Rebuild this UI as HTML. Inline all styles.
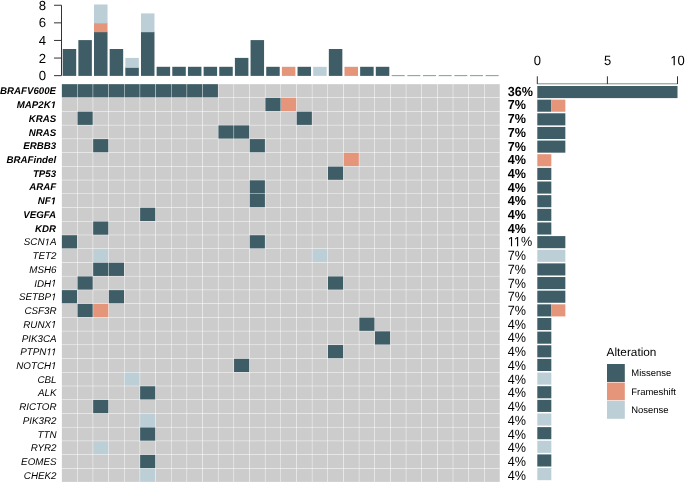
<!DOCTYPE html>
<html><head><meta charset="utf-8"><style>
html,body{margin:0;padding:0;background:#fff;}
body{width:685px;height:483px;overflow:hidden;}
svg{display:block;will-change:transform;text-rendering:geometricPrecision;font-family:"Liberation Sans",sans-serif;}
text{font-family:"Liberation Sans",sans-serif;fill:#000;}
.g{fill:#cccccc;} .d{fill:#3f5d66;} .o{fill:#e4957a;} .l{fill:#bccfd6;}
.lb{font-size:9.7px;font-style:italic;font-weight:bold;text-anchor:end;}
.lr{font-size:9.8px;font-style:italic;text-anchor:end;}
.pb{font-size:12.6px;font-weight:bold;}
.pr{font-size:12.6px;}
</style></head><body>
<svg width="685" height="483" viewBox="0 0 685 483">
<g>
<rect class="d" x="61.85" y="84.16" width="15.21" height="13.28"/>
<rect class="d" x="77.5" y="84.16" width="15.21" height="13.28"/>
<rect class="d" x="93.16" y="84.16" width="15.21" height="13.28"/>
<rect class="d" x="108.81" y="84.16" width="15.21" height="13.28"/>
<rect class="d" x="124.47" y="84.16" width="15.21" height="13.28"/>
<rect class="d" x="140.12" y="84.16" width="15.21" height="13.28"/>
<rect class="d" x="155.78" y="84.16" width="15.21" height="13.28"/>
<rect class="d" x="171.43" y="84.16" width="15.21" height="13.28"/>
<rect class="d" x="187.09" y="84.16" width="15.21" height="13.28"/>
<rect class="d" x="202.74" y="84.16" width="15.21" height="13.28"/>
<rect class="g" x="218.4" y="84.16" width="15.21" height="13.28"/>
<rect class="g" x="234.05" y="84.16" width="15.21" height="13.28"/>
<rect class="g" x="249.71" y="84.16" width="15.21" height="13.28"/>
<rect class="g" x="265.37" y="84.16" width="15.21" height="13.28"/>
<rect class="g" x="281.02" y="84.16" width="15.21" height="13.28"/>
<rect class="g" x="296.68" y="84.16" width="15.21" height="13.28"/>
<rect class="g" x="312.33" y="84.16" width="15.21" height="13.28"/>
<rect class="g" x="327.99" y="84.16" width="15.21" height="13.28"/>
<rect class="g" x="343.64" y="84.16" width="15.21" height="13.28"/>
<rect class="g" x="359.3" y="84.16" width="15.21" height="13.28"/>
<rect class="g" x="374.95" y="84.16" width="15.21" height="13.28"/>
<rect class="g" x="390.61" y="84.16" width="15.21" height="13.28"/>
<rect class="g" x="406.26" y="84.16" width="15.21" height="13.28"/>
<rect class="g" x="421.92" y="84.16" width="15.21" height="13.28"/>
<rect class="g" x="437.57" y="84.16" width="15.21" height="13.28"/>
<rect class="g" x="453.23" y="84.16" width="15.21" height="13.28"/>
<rect class="g" x="468.88" y="84.16" width="15.21" height="13.28"/>
<rect class="g" x="484.54" y="84.16" width="15.21" height="13.28"/>
<rect class="g" x="61.85" y="97.89" width="15.21" height="13.28"/>
<rect class="g" x="77.5" y="97.89" width="15.21" height="13.28"/>
<rect class="g" x="93.16" y="97.89" width="15.21" height="13.28"/>
<rect class="g" x="108.81" y="97.89" width="15.21" height="13.28"/>
<rect class="g" x="124.47" y="97.89" width="15.21" height="13.28"/>
<rect class="g" x="140.12" y="97.89" width="15.21" height="13.28"/>
<rect class="g" x="155.78" y="97.89" width="15.21" height="13.28"/>
<rect class="g" x="171.43" y="97.89" width="15.21" height="13.28"/>
<rect class="g" x="187.09" y="97.89" width="15.21" height="13.28"/>
<rect class="g" x="202.74" y="97.89" width="15.21" height="13.28"/>
<rect class="g" x="218.4" y="97.89" width="15.21" height="13.28"/>
<rect class="g" x="234.05" y="97.89" width="15.21" height="13.28"/>
<rect class="g" x="249.71" y="97.89" width="15.21" height="13.28"/>
<rect class="d" x="265.37" y="97.89" width="15.21" height="13.28"/>
<rect class="o" x="281.02" y="97.89" width="15.21" height="13.28"/>
<rect class="g" x="296.68" y="97.89" width="15.21" height="13.28"/>
<rect class="g" x="312.33" y="97.89" width="15.21" height="13.28"/>
<rect class="g" x="327.99" y="97.89" width="15.21" height="13.28"/>
<rect class="g" x="343.64" y="97.89" width="15.21" height="13.28"/>
<rect class="g" x="359.3" y="97.89" width="15.21" height="13.28"/>
<rect class="g" x="374.95" y="97.89" width="15.21" height="13.28"/>
<rect class="g" x="390.61" y="97.89" width="15.21" height="13.28"/>
<rect class="g" x="406.26" y="97.89" width="15.21" height="13.28"/>
<rect class="g" x="421.92" y="97.89" width="15.21" height="13.28"/>
<rect class="g" x="437.57" y="97.89" width="15.21" height="13.28"/>
<rect class="g" x="453.23" y="97.89" width="15.21" height="13.28"/>
<rect class="g" x="468.88" y="97.89" width="15.21" height="13.28"/>
<rect class="g" x="484.54" y="97.89" width="15.21" height="13.28"/>
<rect class="g" x="61.85" y="111.62" width="15.21" height="13.28"/>
<rect class="d" x="77.5" y="111.62" width="15.21" height="13.28"/>
<rect class="g" x="93.16" y="111.62" width="15.21" height="13.28"/>
<rect class="g" x="108.81" y="111.62" width="15.21" height="13.28"/>
<rect class="g" x="124.47" y="111.62" width="15.21" height="13.28"/>
<rect class="g" x="140.12" y="111.62" width="15.21" height="13.28"/>
<rect class="g" x="155.78" y="111.62" width="15.21" height="13.28"/>
<rect class="g" x="171.43" y="111.62" width="15.21" height="13.28"/>
<rect class="g" x="187.09" y="111.62" width="15.21" height="13.28"/>
<rect class="g" x="202.74" y="111.62" width="15.21" height="13.28"/>
<rect class="g" x="218.4" y="111.62" width="15.21" height="13.28"/>
<rect class="g" x="234.05" y="111.62" width="15.21" height="13.28"/>
<rect class="g" x="249.71" y="111.62" width="15.21" height="13.28"/>
<rect class="g" x="265.37" y="111.62" width="15.21" height="13.28"/>
<rect class="g" x="281.02" y="111.62" width="15.21" height="13.28"/>
<rect class="d" x="296.68" y="111.62" width="15.21" height="13.28"/>
<rect class="g" x="312.33" y="111.62" width="15.21" height="13.28"/>
<rect class="g" x="327.99" y="111.62" width="15.21" height="13.28"/>
<rect class="g" x="343.64" y="111.62" width="15.21" height="13.28"/>
<rect class="g" x="359.3" y="111.62" width="15.21" height="13.28"/>
<rect class="g" x="374.95" y="111.62" width="15.21" height="13.28"/>
<rect class="g" x="390.61" y="111.62" width="15.21" height="13.28"/>
<rect class="g" x="406.26" y="111.62" width="15.21" height="13.28"/>
<rect class="g" x="421.92" y="111.62" width="15.21" height="13.28"/>
<rect class="g" x="437.57" y="111.62" width="15.21" height="13.28"/>
<rect class="g" x="453.23" y="111.62" width="15.21" height="13.28"/>
<rect class="g" x="468.88" y="111.62" width="15.21" height="13.28"/>
<rect class="g" x="484.54" y="111.62" width="15.21" height="13.28"/>
<rect class="g" x="61.85" y="125.35" width="15.21" height="13.28"/>
<rect class="g" x="77.5" y="125.35" width="15.21" height="13.28"/>
<rect class="g" x="93.16" y="125.35" width="15.21" height="13.28"/>
<rect class="g" x="108.81" y="125.35" width="15.21" height="13.28"/>
<rect class="g" x="124.47" y="125.35" width="15.21" height="13.28"/>
<rect class="g" x="140.12" y="125.35" width="15.21" height="13.28"/>
<rect class="g" x="155.78" y="125.35" width="15.21" height="13.28"/>
<rect class="g" x="171.43" y="125.35" width="15.21" height="13.28"/>
<rect class="g" x="187.09" y="125.35" width="15.21" height="13.28"/>
<rect class="g" x="202.74" y="125.35" width="15.21" height="13.28"/>
<rect class="d" x="218.4" y="125.35" width="15.21" height="13.28"/>
<rect class="d" x="234.05" y="125.35" width="15.21" height="13.28"/>
<rect class="g" x="249.71" y="125.35" width="15.21" height="13.28"/>
<rect class="g" x="265.37" y="125.35" width="15.21" height="13.28"/>
<rect class="g" x="281.02" y="125.35" width="15.21" height="13.28"/>
<rect class="g" x="296.68" y="125.35" width="15.21" height="13.28"/>
<rect class="g" x="312.33" y="125.35" width="15.21" height="13.28"/>
<rect class="g" x="327.99" y="125.35" width="15.21" height="13.28"/>
<rect class="g" x="343.64" y="125.35" width="15.21" height="13.28"/>
<rect class="g" x="359.3" y="125.35" width="15.21" height="13.28"/>
<rect class="g" x="374.95" y="125.35" width="15.21" height="13.28"/>
<rect class="g" x="390.61" y="125.35" width="15.21" height="13.28"/>
<rect class="g" x="406.26" y="125.35" width="15.21" height="13.28"/>
<rect class="g" x="421.92" y="125.35" width="15.21" height="13.28"/>
<rect class="g" x="437.57" y="125.35" width="15.21" height="13.28"/>
<rect class="g" x="453.23" y="125.35" width="15.21" height="13.28"/>
<rect class="g" x="468.88" y="125.35" width="15.21" height="13.28"/>
<rect class="g" x="484.54" y="125.35" width="15.21" height="13.28"/>
<rect class="g" x="61.85" y="139.09" width="15.21" height="13.28"/>
<rect class="g" x="77.5" y="139.09" width="15.21" height="13.28"/>
<rect class="d" x="93.16" y="139.09" width="15.21" height="13.28"/>
<rect class="g" x="108.81" y="139.09" width="15.21" height="13.28"/>
<rect class="g" x="124.47" y="139.09" width="15.21" height="13.28"/>
<rect class="g" x="140.12" y="139.09" width="15.21" height="13.28"/>
<rect class="g" x="155.78" y="139.09" width="15.21" height="13.28"/>
<rect class="g" x="171.43" y="139.09" width="15.21" height="13.28"/>
<rect class="g" x="187.09" y="139.09" width="15.21" height="13.28"/>
<rect class="g" x="202.74" y="139.09" width="15.21" height="13.28"/>
<rect class="g" x="218.4" y="139.09" width="15.21" height="13.28"/>
<rect class="g" x="234.05" y="139.09" width="15.21" height="13.28"/>
<rect class="d" x="249.71" y="139.09" width="15.21" height="13.28"/>
<rect class="g" x="265.37" y="139.09" width="15.21" height="13.28"/>
<rect class="g" x="281.02" y="139.09" width="15.21" height="13.28"/>
<rect class="g" x="296.68" y="139.09" width="15.21" height="13.28"/>
<rect class="g" x="312.33" y="139.09" width="15.21" height="13.28"/>
<rect class="g" x="327.99" y="139.09" width="15.21" height="13.28"/>
<rect class="g" x="343.64" y="139.09" width="15.21" height="13.28"/>
<rect class="g" x="359.3" y="139.09" width="15.21" height="13.28"/>
<rect class="g" x="374.95" y="139.09" width="15.21" height="13.28"/>
<rect class="g" x="390.61" y="139.09" width="15.21" height="13.28"/>
<rect class="g" x="406.26" y="139.09" width="15.21" height="13.28"/>
<rect class="g" x="421.92" y="139.09" width="15.21" height="13.28"/>
<rect class="g" x="437.57" y="139.09" width="15.21" height="13.28"/>
<rect class="g" x="453.23" y="139.09" width="15.21" height="13.28"/>
<rect class="g" x="468.88" y="139.09" width="15.21" height="13.28"/>
<rect class="g" x="484.54" y="139.09" width="15.21" height="13.28"/>
<rect class="g" x="61.85" y="152.81" width="15.21" height="13.28"/>
<rect class="g" x="77.5" y="152.81" width="15.21" height="13.28"/>
<rect class="g" x="93.16" y="152.81" width="15.21" height="13.28"/>
<rect class="g" x="108.81" y="152.81" width="15.21" height="13.28"/>
<rect class="g" x="124.47" y="152.81" width="15.21" height="13.28"/>
<rect class="g" x="140.12" y="152.81" width="15.21" height="13.28"/>
<rect class="g" x="155.78" y="152.81" width="15.21" height="13.28"/>
<rect class="g" x="171.43" y="152.81" width="15.21" height="13.28"/>
<rect class="g" x="187.09" y="152.81" width="15.21" height="13.28"/>
<rect class="g" x="202.74" y="152.81" width="15.21" height="13.28"/>
<rect class="g" x="218.4" y="152.81" width="15.21" height="13.28"/>
<rect class="g" x="234.05" y="152.81" width="15.21" height="13.28"/>
<rect class="g" x="249.71" y="152.81" width="15.21" height="13.28"/>
<rect class="g" x="265.37" y="152.81" width="15.21" height="13.28"/>
<rect class="g" x="281.02" y="152.81" width="15.21" height="13.28"/>
<rect class="g" x="296.68" y="152.81" width="15.21" height="13.28"/>
<rect class="g" x="312.33" y="152.81" width="15.21" height="13.28"/>
<rect class="g" x="327.99" y="152.81" width="15.21" height="13.28"/>
<rect class="o" x="343.64" y="152.81" width="15.21" height="13.28"/>
<rect class="g" x="359.3" y="152.81" width="15.21" height="13.28"/>
<rect class="g" x="374.95" y="152.81" width="15.21" height="13.28"/>
<rect class="g" x="390.61" y="152.81" width="15.21" height="13.28"/>
<rect class="g" x="406.26" y="152.81" width="15.21" height="13.28"/>
<rect class="g" x="421.92" y="152.81" width="15.21" height="13.28"/>
<rect class="g" x="437.57" y="152.81" width="15.21" height="13.28"/>
<rect class="g" x="453.23" y="152.81" width="15.21" height="13.28"/>
<rect class="g" x="468.88" y="152.81" width="15.21" height="13.28"/>
<rect class="g" x="484.54" y="152.81" width="15.21" height="13.28"/>
<rect class="g" x="61.85" y="166.54" width="15.21" height="13.28"/>
<rect class="g" x="77.5" y="166.54" width="15.21" height="13.28"/>
<rect class="g" x="93.16" y="166.54" width="15.21" height="13.28"/>
<rect class="g" x="108.81" y="166.54" width="15.21" height="13.28"/>
<rect class="g" x="124.47" y="166.54" width="15.21" height="13.28"/>
<rect class="g" x="140.12" y="166.54" width="15.21" height="13.28"/>
<rect class="g" x="155.78" y="166.54" width="15.21" height="13.28"/>
<rect class="g" x="171.43" y="166.54" width="15.21" height="13.28"/>
<rect class="g" x="187.09" y="166.54" width="15.21" height="13.28"/>
<rect class="g" x="202.74" y="166.54" width="15.21" height="13.28"/>
<rect class="g" x="218.4" y="166.54" width="15.21" height="13.28"/>
<rect class="g" x="234.05" y="166.54" width="15.21" height="13.28"/>
<rect class="g" x="249.71" y="166.54" width="15.21" height="13.28"/>
<rect class="g" x="265.37" y="166.54" width="15.21" height="13.28"/>
<rect class="g" x="281.02" y="166.54" width="15.21" height="13.28"/>
<rect class="g" x="296.68" y="166.54" width="15.21" height="13.28"/>
<rect class="g" x="312.33" y="166.54" width="15.21" height="13.28"/>
<rect class="d" x="327.99" y="166.54" width="15.21" height="13.28"/>
<rect class="g" x="343.64" y="166.54" width="15.21" height="13.28"/>
<rect class="g" x="359.3" y="166.54" width="15.21" height="13.28"/>
<rect class="g" x="374.95" y="166.54" width="15.21" height="13.28"/>
<rect class="g" x="390.61" y="166.54" width="15.21" height="13.28"/>
<rect class="g" x="406.26" y="166.54" width="15.21" height="13.28"/>
<rect class="g" x="421.92" y="166.54" width="15.21" height="13.28"/>
<rect class="g" x="437.57" y="166.54" width="15.21" height="13.28"/>
<rect class="g" x="453.23" y="166.54" width="15.21" height="13.28"/>
<rect class="g" x="468.88" y="166.54" width="15.21" height="13.28"/>
<rect class="g" x="484.54" y="166.54" width="15.21" height="13.28"/>
<rect class="g" x="61.85" y="180.28" width="15.21" height="13.28"/>
<rect class="g" x="77.5" y="180.28" width="15.21" height="13.28"/>
<rect class="g" x="93.16" y="180.28" width="15.21" height="13.28"/>
<rect class="g" x="108.81" y="180.28" width="15.21" height="13.28"/>
<rect class="g" x="124.47" y="180.28" width="15.21" height="13.28"/>
<rect class="g" x="140.12" y="180.28" width="15.21" height="13.28"/>
<rect class="g" x="155.78" y="180.28" width="15.21" height="13.28"/>
<rect class="g" x="171.43" y="180.28" width="15.21" height="13.28"/>
<rect class="g" x="187.09" y="180.28" width="15.21" height="13.28"/>
<rect class="g" x="202.74" y="180.28" width="15.21" height="13.28"/>
<rect class="g" x="218.4" y="180.28" width="15.21" height="13.28"/>
<rect class="g" x="234.05" y="180.28" width="15.21" height="13.28"/>
<rect class="d" x="249.71" y="180.28" width="15.21" height="13.28"/>
<rect class="g" x="265.37" y="180.28" width="15.21" height="13.28"/>
<rect class="g" x="281.02" y="180.28" width="15.21" height="13.28"/>
<rect class="g" x="296.68" y="180.28" width="15.21" height="13.28"/>
<rect class="g" x="312.33" y="180.28" width="15.21" height="13.28"/>
<rect class="g" x="327.99" y="180.28" width="15.21" height="13.28"/>
<rect class="g" x="343.64" y="180.28" width="15.21" height="13.28"/>
<rect class="g" x="359.3" y="180.28" width="15.21" height="13.28"/>
<rect class="g" x="374.95" y="180.28" width="15.21" height="13.28"/>
<rect class="g" x="390.61" y="180.28" width="15.21" height="13.28"/>
<rect class="g" x="406.26" y="180.28" width="15.21" height="13.28"/>
<rect class="g" x="421.92" y="180.28" width="15.21" height="13.28"/>
<rect class="g" x="437.57" y="180.28" width="15.21" height="13.28"/>
<rect class="g" x="453.23" y="180.28" width="15.21" height="13.28"/>
<rect class="g" x="468.88" y="180.28" width="15.21" height="13.28"/>
<rect class="g" x="484.54" y="180.28" width="15.21" height="13.28"/>
<rect class="g" x="61.85" y="194" width="15.21" height="13.28"/>
<rect class="g" x="77.5" y="194" width="15.21" height="13.28"/>
<rect class="g" x="93.16" y="194" width="15.21" height="13.28"/>
<rect class="g" x="108.81" y="194" width="15.21" height="13.28"/>
<rect class="g" x="124.47" y="194" width="15.21" height="13.28"/>
<rect class="g" x="140.12" y="194" width="15.21" height="13.28"/>
<rect class="g" x="155.78" y="194" width="15.21" height="13.28"/>
<rect class="g" x="171.43" y="194" width="15.21" height="13.28"/>
<rect class="g" x="187.09" y="194" width="15.21" height="13.28"/>
<rect class="g" x="202.74" y="194" width="15.21" height="13.28"/>
<rect class="g" x="218.4" y="194" width="15.21" height="13.28"/>
<rect class="g" x="234.05" y="194" width="15.21" height="13.28"/>
<rect class="d" x="249.71" y="194" width="15.21" height="13.28"/>
<rect class="g" x="265.37" y="194" width="15.21" height="13.28"/>
<rect class="g" x="281.02" y="194" width="15.21" height="13.28"/>
<rect class="g" x="296.68" y="194" width="15.21" height="13.28"/>
<rect class="g" x="312.33" y="194" width="15.21" height="13.28"/>
<rect class="g" x="327.99" y="194" width="15.21" height="13.28"/>
<rect class="g" x="343.64" y="194" width="15.21" height="13.28"/>
<rect class="g" x="359.3" y="194" width="15.21" height="13.28"/>
<rect class="g" x="374.95" y="194" width="15.21" height="13.28"/>
<rect class="g" x="390.61" y="194" width="15.21" height="13.28"/>
<rect class="g" x="406.26" y="194" width="15.21" height="13.28"/>
<rect class="g" x="421.92" y="194" width="15.21" height="13.28"/>
<rect class="g" x="437.57" y="194" width="15.21" height="13.28"/>
<rect class="g" x="453.23" y="194" width="15.21" height="13.28"/>
<rect class="g" x="468.88" y="194" width="15.21" height="13.28"/>
<rect class="g" x="484.54" y="194" width="15.21" height="13.28"/>
<rect class="g" x="61.85" y="207.73" width="15.21" height="13.28"/>
<rect class="g" x="77.5" y="207.73" width="15.21" height="13.28"/>
<rect class="g" x="93.16" y="207.73" width="15.21" height="13.28"/>
<rect class="g" x="108.81" y="207.73" width="15.21" height="13.28"/>
<rect class="g" x="124.47" y="207.73" width="15.21" height="13.28"/>
<rect class="d" x="140.12" y="207.73" width="15.21" height="13.28"/>
<rect class="g" x="155.78" y="207.73" width="15.21" height="13.28"/>
<rect class="g" x="171.43" y="207.73" width="15.21" height="13.28"/>
<rect class="g" x="187.09" y="207.73" width="15.21" height="13.28"/>
<rect class="g" x="202.74" y="207.73" width="15.21" height="13.28"/>
<rect class="g" x="218.4" y="207.73" width="15.21" height="13.28"/>
<rect class="g" x="234.05" y="207.73" width="15.21" height="13.28"/>
<rect class="g" x="249.71" y="207.73" width="15.21" height="13.28"/>
<rect class="g" x="265.37" y="207.73" width="15.21" height="13.28"/>
<rect class="g" x="281.02" y="207.73" width="15.21" height="13.28"/>
<rect class="g" x="296.68" y="207.73" width="15.21" height="13.28"/>
<rect class="g" x="312.33" y="207.73" width="15.21" height="13.28"/>
<rect class="g" x="327.99" y="207.73" width="15.21" height="13.28"/>
<rect class="g" x="343.64" y="207.73" width="15.21" height="13.28"/>
<rect class="g" x="359.3" y="207.73" width="15.21" height="13.28"/>
<rect class="g" x="374.95" y="207.73" width="15.21" height="13.28"/>
<rect class="g" x="390.61" y="207.73" width="15.21" height="13.28"/>
<rect class="g" x="406.26" y="207.73" width="15.21" height="13.28"/>
<rect class="g" x="421.92" y="207.73" width="15.21" height="13.28"/>
<rect class="g" x="437.57" y="207.73" width="15.21" height="13.28"/>
<rect class="g" x="453.23" y="207.73" width="15.21" height="13.28"/>
<rect class="g" x="468.88" y="207.73" width="15.21" height="13.28"/>
<rect class="g" x="484.54" y="207.73" width="15.21" height="13.28"/>
<rect class="g" x="61.85" y="221.47" width="15.21" height="13.28"/>
<rect class="g" x="77.5" y="221.47" width="15.21" height="13.28"/>
<rect class="d" x="93.16" y="221.47" width="15.21" height="13.28"/>
<rect class="g" x="108.81" y="221.47" width="15.21" height="13.28"/>
<rect class="g" x="124.47" y="221.47" width="15.21" height="13.28"/>
<rect class="g" x="140.12" y="221.47" width="15.21" height="13.28"/>
<rect class="g" x="155.78" y="221.47" width="15.21" height="13.28"/>
<rect class="g" x="171.43" y="221.47" width="15.21" height="13.28"/>
<rect class="g" x="187.09" y="221.47" width="15.21" height="13.28"/>
<rect class="g" x="202.74" y="221.47" width="15.21" height="13.28"/>
<rect class="g" x="218.4" y="221.47" width="15.21" height="13.28"/>
<rect class="g" x="234.05" y="221.47" width="15.21" height="13.28"/>
<rect class="g" x="249.71" y="221.47" width="15.21" height="13.28"/>
<rect class="g" x="265.37" y="221.47" width="15.21" height="13.28"/>
<rect class="g" x="281.02" y="221.47" width="15.21" height="13.28"/>
<rect class="g" x="296.68" y="221.47" width="15.21" height="13.28"/>
<rect class="g" x="312.33" y="221.47" width="15.21" height="13.28"/>
<rect class="g" x="327.99" y="221.47" width="15.21" height="13.28"/>
<rect class="g" x="343.64" y="221.47" width="15.21" height="13.28"/>
<rect class="g" x="359.3" y="221.47" width="15.21" height="13.28"/>
<rect class="g" x="374.95" y="221.47" width="15.21" height="13.28"/>
<rect class="g" x="390.61" y="221.47" width="15.21" height="13.28"/>
<rect class="g" x="406.26" y="221.47" width="15.21" height="13.28"/>
<rect class="g" x="421.92" y="221.47" width="15.21" height="13.28"/>
<rect class="g" x="437.57" y="221.47" width="15.21" height="13.28"/>
<rect class="g" x="453.23" y="221.47" width="15.21" height="13.28"/>
<rect class="g" x="468.88" y="221.47" width="15.21" height="13.28"/>
<rect class="g" x="484.54" y="221.47" width="15.21" height="13.28"/>
<rect class="d" x="61.85" y="235.19" width="15.21" height="13.28"/>
<rect class="g" x="77.5" y="235.19" width="15.21" height="13.28"/>
<rect class="g" x="93.16" y="235.19" width="15.21" height="13.28"/>
<rect class="g" x="108.81" y="235.19" width="15.21" height="13.28"/>
<rect class="g" x="124.47" y="235.19" width="15.21" height="13.28"/>
<rect class="g" x="140.12" y="235.19" width="15.21" height="13.28"/>
<rect class="g" x="155.78" y="235.19" width="15.21" height="13.28"/>
<rect class="g" x="171.43" y="235.19" width="15.21" height="13.28"/>
<rect class="g" x="187.09" y="235.19" width="15.21" height="13.28"/>
<rect class="g" x="202.74" y="235.19" width="15.21" height="13.28"/>
<rect class="g" x="218.4" y="235.19" width="15.21" height="13.28"/>
<rect class="g" x="234.05" y="235.19" width="15.21" height="13.28"/>
<rect class="d" x="249.71" y="235.19" width="15.21" height="13.28"/>
<rect class="g" x="265.37" y="235.19" width="15.21" height="13.28"/>
<rect class="g" x="281.02" y="235.19" width="15.21" height="13.28"/>
<rect class="g" x="296.68" y="235.19" width="15.21" height="13.28"/>
<rect class="g" x="312.33" y="235.19" width="15.21" height="13.28"/>
<rect class="g" x="327.99" y="235.19" width="15.21" height="13.28"/>
<rect class="g" x="343.64" y="235.19" width="15.21" height="13.28"/>
<rect class="g" x="359.3" y="235.19" width="15.21" height="13.28"/>
<rect class="g" x="374.95" y="235.19" width="15.21" height="13.28"/>
<rect class="g" x="390.61" y="235.19" width="15.21" height="13.28"/>
<rect class="g" x="406.26" y="235.19" width="15.21" height="13.28"/>
<rect class="g" x="421.92" y="235.19" width="15.21" height="13.28"/>
<rect class="g" x="437.57" y="235.19" width="15.21" height="13.28"/>
<rect class="g" x="453.23" y="235.19" width="15.21" height="13.28"/>
<rect class="g" x="468.88" y="235.19" width="15.21" height="13.28"/>
<rect class="g" x="484.54" y="235.19" width="15.21" height="13.28"/>
<rect class="g" x="61.85" y="248.92" width="15.21" height="13.28"/>
<rect class="g" x="77.5" y="248.92" width="15.21" height="13.28"/>
<rect class="l" x="93.16" y="248.92" width="15.21" height="13.28"/>
<rect class="g" x="108.81" y="248.92" width="15.21" height="13.28"/>
<rect class="g" x="124.47" y="248.92" width="15.21" height="13.28"/>
<rect class="g" x="140.12" y="248.92" width="15.21" height="13.28"/>
<rect class="g" x="155.78" y="248.92" width="15.21" height="13.28"/>
<rect class="g" x="171.43" y="248.92" width="15.21" height="13.28"/>
<rect class="g" x="187.09" y="248.92" width="15.21" height="13.28"/>
<rect class="g" x="202.74" y="248.92" width="15.21" height="13.28"/>
<rect class="g" x="218.4" y="248.92" width="15.21" height="13.28"/>
<rect class="g" x="234.05" y="248.92" width="15.21" height="13.28"/>
<rect class="g" x="249.71" y="248.92" width="15.21" height="13.28"/>
<rect class="g" x="265.37" y="248.92" width="15.21" height="13.28"/>
<rect class="g" x="281.02" y="248.92" width="15.21" height="13.28"/>
<rect class="g" x="296.68" y="248.92" width="15.21" height="13.28"/>
<rect class="l" x="312.33" y="248.92" width="15.21" height="13.28"/>
<rect class="g" x="327.99" y="248.92" width="15.21" height="13.28"/>
<rect class="g" x="343.64" y="248.92" width="15.21" height="13.28"/>
<rect class="g" x="359.3" y="248.92" width="15.21" height="13.28"/>
<rect class="g" x="374.95" y="248.92" width="15.21" height="13.28"/>
<rect class="g" x="390.61" y="248.92" width="15.21" height="13.28"/>
<rect class="g" x="406.26" y="248.92" width="15.21" height="13.28"/>
<rect class="g" x="421.92" y="248.92" width="15.21" height="13.28"/>
<rect class="g" x="437.57" y="248.92" width="15.21" height="13.28"/>
<rect class="g" x="453.23" y="248.92" width="15.21" height="13.28"/>
<rect class="g" x="468.88" y="248.92" width="15.21" height="13.28"/>
<rect class="g" x="484.54" y="248.92" width="15.21" height="13.28"/>
<rect class="g" x="61.85" y="262.66" width="15.21" height="13.28"/>
<rect class="g" x="77.5" y="262.66" width="15.21" height="13.28"/>
<rect class="d" x="93.16" y="262.66" width="15.21" height="13.28"/>
<rect class="d" x="108.81" y="262.66" width="15.21" height="13.28"/>
<rect class="g" x="124.47" y="262.66" width="15.21" height="13.28"/>
<rect class="g" x="140.12" y="262.66" width="15.21" height="13.28"/>
<rect class="g" x="155.78" y="262.66" width="15.21" height="13.28"/>
<rect class="g" x="171.43" y="262.66" width="15.21" height="13.28"/>
<rect class="g" x="187.09" y="262.66" width="15.21" height="13.28"/>
<rect class="g" x="202.74" y="262.66" width="15.21" height="13.28"/>
<rect class="g" x="218.4" y="262.66" width="15.21" height="13.28"/>
<rect class="g" x="234.05" y="262.66" width="15.21" height="13.28"/>
<rect class="g" x="249.71" y="262.66" width="15.21" height="13.28"/>
<rect class="g" x="265.37" y="262.66" width="15.21" height="13.28"/>
<rect class="g" x="281.02" y="262.66" width="15.21" height="13.28"/>
<rect class="g" x="296.68" y="262.66" width="15.21" height="13.28"/>
<rect class="g" x="312.33" y="262.66" width="15.21" height="13.28"/>
<rect class="g" x="327.99" y="262.66" width="15.21" height="13.28"/>
<rect class="g" x="343.64" y="262.66" width="15.21" height="13.28"/>
<rect class="g" x="359.3" y="262.66" width="15.21" height="13.28"/>
<rect class="g" x="374.95" y="262.66" width="15.21" height="13.28"/>
<rect class="g" x="390.61" y="262.66" width="15.21" height="13.28"/>
<rect class="g" x="406.26" y="262.66" width="15.21" height="13.28"/>
<rect class="g" x="421.92" y="262.66" width="15.21" height="13.28"/>
<rect class="g" x="437.57" y="262.66" width="15.21" height="13.28"/>
<rect class="g" x="453.23" y="262.66" width="15.21" height="13.28"/>
<rect class="g" x="468.88" y="262.66" width="15.21" height="13.28"/>
<rect class="g" x="484.54" y="262.66" width="15.21" height="13.28"/>
<rect class="g" x="61.85" y="276.38" width="15.21" height="13.28"/>
<rect class="d" x="77.5" y="276.38" width="15.21" height="13.28"/>
<rect class="g" x="93.16" y="276.38" width="15.21" height="13.28"/>
<rect class="g" x="108.81" y="276.38" width="15.21" height="13.28"/>
<rect class="g" x="124.47" y="276.38" width="15.21" height="13.28"/>
<rect class="g" x="140.12" y="276.38" width="15.21" height="13.28"/>
<rect class="g" x="155.78" y="276.38" width="15.21" height="13.28"/>
<rect class="g" x="171.43" y="276.38" width="15.21" height="13.28"/>
<rect class="g" x="187.09" y="276.38" width="15.21" height="13.28"/>
<rect class="g" x="202.74" y="276.38" width="15.21" height="13.28"/>
<rect class="g" x="218.4" y="276.38" width="15.21" height="13.28"/>
<rect class="g" x="234.05" y="276.38" width="15.21" height="13.28"/>
<rect class="g" x="249.71" y="276.38" width="15.21" height="13.28"/>
<rect class="g" x="265.37" y="276.38" width="15.21" height="13.28"/>
<rect class="g" x="281.02" y="276.38" width="15.21" height="13.28"/>
<rect class="g" x="296.68" y="276.38" width="15.21" height="13.28"/>
<rect class="g" x="312.33" y="276.38" width="15.21" height="13.28"/>
<rect class="d" x="327.99" y="276.38" width="15.21" height="13.28"/>
<rect class="g" x="343.64" y="276.38" width="15.21" height="13.28"/>
<rect class="g" x="359.3" y="276.38" width="15.21" height="13.28"/>
<rect class="g" x="374.95" y="276.38" width="15.21" height="13.28"/>
<rect class="g" x="390.61" y="276.38" width="15.21" height="13.28"/>
<rect class="g" x="406.26" y="276.38" width="15.21" height="13.28"/>
<rect class="g" x="421.92" y="276.38" width="15.21" height="13.28"/>
<rect class="g" x="437.57" y="276.38" width="15.21" height="13.28"/>
<rect class="g" x="453.23" y="276.38" width="15.21" height="13.28"/>
<rect class="g" x="468.88" y="276.38" width="15.21" height="13.28"/>
<rect class="g" x="484.54" y="276.38" width="15.21" height="13.28"/>
<rect class="d" x="61.85" y="290.12" width="15.21" height="13.28"/>
<rect class="g" x="77.5" y="290.12" width="15.21" height="13.28"/>
<rect class="g" x="93.16" y="290.12" width="15.21" height="13.28"/>
<rect class="d" x="108.81" y="290.12" width="15.21" height="13.28"/>
<rect class="g" x="124.47" y="290.12" width="15.21" height="13.28"/>
<rect class="g" x="140.12" y="290.12" width="15.21" height="13.28"/>
<rect class="g" x="155.78" y="290.12" width="15.21" height="13.28"/>
<rect class="g" x="171.43" y="290.12" width="15.21" height="13.28"/>
<rect class="g" x="187.09" y="290.12" width="15.21" height="13.28"/>
<rect class="g" x="202.74" y="290.12" width="15.21" height="13.28"/>
<rect class="g" x="218.4" y="290.12" width="15.21" height="13.28"/>
<rect class="g" x="234.05" y="290.12" width="15.21" height="13.28"/>
<rect class="g" x="249.71" y="290.12" width="15.21" height="13.28"/>
<rect class="g" x="265.37" y="290.12" width="15.21" height="13.28"/>
<rect class="g" x="281.02" y="290.12" width="15.21" height="13.28"/>
<rect class="g" x="296.68" y="290.12" width="15.21" height="13.28"/>
<rect class="g" x="312.33" y="290.12" width="15.21" height="13.28"/>
<rect class="g" x="327.99" y="290.12" width="15.21" height="13.28"/>
<rect class="g" x="343.64" y="290.12" width="15.21" height="13.28"/>
<rect class="g" x="359.3" y="290.12" width="15.21" height="13.28"/>
<rect class="g" x="374.95" y="290.12" width="15.21" height="13.28"/>
<rect class="g" x="390.61" y="290.12" width="15.21" height="13.28"/>
<rect class="g" x="406.26" y="290.12" width="15.21" height="13.28"/>
<rect class="g" x="421.92" y="290.12" width="15.21" height="13.28"/>
<rect class="g" x="437.57" y="290.12" width="15.21" height="13.28"/>
<rect class="g" x="453.23" y="290.12" width="15.21" height="13.28"/>
<rect class="g" x="468.88" y="290.12" width="15.21" height="13.28"/>
<rect class="g" x="484.54" y="290.12" width="15.21" height="13.28"/>
<rect class="g" x="61.85" y="303.85" width="15.21" height="13.28"/>
<rect class="d" x="77.5" y="303.85" width="15.21" height="13.28"/>
<rect class="o" x="93.16" y="303.85" width="15.21" height="13.28"/>
<rect class="g" x="108.81" y="303.85" width="15.21" height="13.28"/>
<rect class="g" x="124.47" y="303.85" width="15.21" height="13.28"/>
<rect class="g" x="140.12" y="303.85" width="15.21" height="13.28"/>
<rect class="g" x="155.78" y="303.85" width="15.21" height="13.28"/>
<rect class="g" x="171.43" y="303.85" width="15.21" height="13.28"/>
<rect class="g" x="187.09" y="303.85" width="15.21" height="13.28"/>
<rect class="g" x="202.74" y="303.85" width="15.21" height="13.28"/>
<rect class="g" x="218.4" y="303.85" width="15.21" height="13.28"/>
<rect class="g" x="234.05" y="303.85" width="15.21" height="13.28"/>
<rect class="g" x="249.71" y="303.85" width="15.21" height="13.28"/>
<rect class="g" x="265.37" y="303.85" width="15.21" height="13.28"/>
<rect class="g" x="281.02" y="303.85" width="15.21" height="13.28"/>
<rect class="g" x="296.68" y="303.85" width="15.21" height="13.28"/>
<rect class="g" x="312.33" y="303.85" width="15.21" height="13.28"/>
<rect class="g" x="327.99" y="303.85" width="15.21" height="13.28"/>
<rect class="g" x="343.64" y="303.85" width="15.21" height="13.28"/>
<rect class="g" x="359.3" y="303.85" width="15.21" height="13.28"/>
<rect class="g" x="374.95" y="303.85" width="15.21" height="13.28"/>
<rect class="g" x="390.61" y="303.85" width="15.21" height="13.28"/>
<rect class="g" x="406.26" y="303.85" width="15.21" height="13.28"/>
<rect class="g" x="421.92" y="303.85" width="15.21" height="13.28"/>
<rect class="g" x="437.57" y="303.85" width="15.21" height="13.28"/>
<rect class="g" x="453.23" y="303.85" width="15.21" height="13.28"/>
<rect class="g" x="468.88" y="303.85" width="15.21" height="13.28"/>
<rect class="g" x="484.54" y="303.85" width="15.21" height="13.28"/>
<rect class="g" x="61.85" y="317.58" width="15.21" height="13.28"/>
<rect class="g" x="77.5" y="317.58" width="15.21" height="13.28"/>
<rect class="g" x="93.16" y="317.58" width="15.21" height="13.28"/>
<rect class="g" x="108.81" y="317.58" width="15.21" height="13.28"/>
<rect class="g" x="124.47" y="317.58" width="15.21" height="13.28"/>
<rect class="g" x="140.12" y="317.58" width="15.21" height="13.28"/>
<rect class="g" x="155.78" y="317.58" width="15.21" height="13.28"/>
<rect class="g" x="171.43" y="317.58" width="15.21" height="13.28"/>
<rect class="g" x="187.09" y="317.58" width="15.21" height="13.28"/>
<rect class="g" x="202.74" y="317.58" width="15.21" height="13.28"/>
<rect class="g" x="218.4" y="317.58" width="15.21" height="13.28"/>
<rect class="g" x="234.05" y="317.58" width="15.21" height="13.28"/>
<rect class="g" x="249.71" y="317.58" width="15.21" height="13.28"/>
<rect class="g" x="265.37" y="317.58" width="15.21" height="13.28"/>
<rect class="g" x="281.02" y="317.58" width="15.21" height="13.28"/>
<rect class="g" x="296.68" y="317.58" width="15.21" height="13.28"/>
<rect class="g" x="312.33" y="317.58" width="15.21" height="13.28"/>
<rect class="g" x="327.99" y="317.58" width="15.21" height="13.28"/>
<rect class="g" x="343.64" y="317.58" width="15.21" height="13.28"/>
<rect class="d" x="359.3" y="317.58" width="15.21" height="13.28"/>
<rect class="g" x="374.95" y="317.58" width="15.21" height="13.28"/>
<rect class="g" x="390.61" y="317.58" width="15.21" height="13.28"/>
<rect class="g" x="406.26" y="317.58" width="15.21" height="13.28"/>
<rect class="g" x="421.92" y="317.58" width="15.21" height="13.28"/>
<rect class="g" x="437.57" y="317.58" width="15.21" height="13.28"/>
<rect class="g" x="453.23" y="317.58" width="15.21" height="13.28"/>
<rect class="g" x="468.88" y="317.58" width="15.21" height="13.28"/>
<rect class="g" x="484.54" y="317.58" width="15.21" height="13.28"/>
<rect class="g" x="61.85" y="331.31" width="15.21" height="13.28"/>
<rect class="g" x="77.5" y="331.31" width="15.21" height="13.28"/>
<rect class="g" x="93.16" y="331.31" width="15.21" height="13.28"/>
<rect class="g" x="108.81" y="331.31" width="15.21" height="13.28"/>
<rect class="g" x="124.47" y="331.31" width="15.21" height="13.28"/>
<rect class="g" x="140.12" y="331.31" width="15.21" height="13.28"/>
<rect class="g" x="155.78" y="331.31" width="15.21" height="13.28"/>
<rect class="g" x="171.43" y="331.31" width="15.21" height="13.28"/>
<rect class="g" x="187.09" y="331.31" width="15.21" height="13.28"/>
<rect class="g" x="202.74" y="331.31" width="15.21" height="13.28"/>
<rect class="g" x="218.4" y="331.31" width="15.21" height="13.28"/>
<rect class="g" x="234.05" y="331.31" width="15.21" height="13.28"/>
<rect class="g" x="249.71" y="331.31" width="15.21" height="13.28"/>
<rect class="g" x="265.37" y="331.31" width="15.21" height="13.28"/>
<rect class="g" x="281.02" y="331.31" width="15.21" height="13.28"/>
<rect class="g" x="296.68" y="331.31" width="15.21" height="13.28"/>
<rect class="g" x="312.33" y="331.31" width="15.21" height="13.28"/>
<rect class="g" x="327.99" y="331.31" width="15.21" height="13.28"/>
<rect class="g" x="343.64" y="331.31" width="15.21" height="13.28"/>
<rect class="g" x="359.3" y="331.31" width="15.21" height="13.28"/>
<rect class="d" x="374.95" y="331.31" width="15.21" height="13.28"/>
<rect class="g" x="390.61" y="331.31" width="15.21" height="13.28"/>
<rect class="g" x="406.26" y="331.31" width="15.21" height="13.28"/>
<rect class="g" x="421.92" y="331.31" width="15.21" height="13.28"/>
<rect class="g" x="437.57" y="331.31" width="15.21" height="13.28"/>
<rect class="g" x="453.23" y="331.31" width="15.21" height="13.28"/>
<rect class="g" x="468.88" y="331.31" width="15.21" height="13.28"/>
<rect class="g" x="484.54" y="331.31" width="15.21" height="13.28"/>
<rect class="g" x="61.85" y="345.04" width="15.21" height="13.28"/>
<rect class="g" x="77.5" y="345.04" width="15.21" height="13.28"/>
<rect class="g" x="93.16" y="345.04" width="15.21" height="13.28"/>
<rect class="g" x="108.81" y="345.04" width="15.21" height="13.28"/>
<rect class="g" x="124.47" y="345.04" width="15.21" height="13.28"/>
<rect class="g" x="140.12" y="345.04" width="15.21" height="13.28"/>
<rect class="g" x="155.78" y="345.04" width="15.21" height="13.28"/>
<rect class="g" x="171.43" y="345.04" width="15.21" height="13.28"/>
<rect class="g" x="187.09" y="345.04" width="15.21" height="13.28"/>
<rect class="g" x="202.74" y="345.04" width="15.21" height="13.28"/>
<rect class="g" x="218.4" y="345.04" width="15.21" height="13.28"/>
<rect class="g" x="234.05" y="345.04" width="15.21" height="13.28"/>
<rect class="g" x="249.71" y="345.04" width="15.21" height="13.28"/>
<rect class="g" x="265.37" y="345.04" width="15.21" height="13.28"/>
<rect class="g" x="281.02" y="345.04" width="15.21" height="13.28"/>
<rect class="g" x="296.68" y="345.04" width="15.21" height="13.28"/>
<rect class="g" x="312.33" y="345.04" width="15.21" height="13.28"/>
<rect class="d" x="327.99" y="345.04" width="15.21" height="13.28"/>
<rect class="g" x="343.64" y="345.04" width="15.21" height="13.28"/>
<rect class="g" x="359.3" y="345.04" width="15.21" height="13.28"/>
<rect class="g" x="374.95" y="345.04" width="15.21" height="13.28"/>
<rect class="g" x="390.61" y="345.04" width="15.21" height="13.28"/>
<rect class="g" x="406.26" y="345.04" width="15.21" height="13.28"/>
<rect class="g" x="421.92" y="345.04" width="15.21" height="13.28"/>
<rect class="g" x="437.57" y="345.04" width="15.21" height="13.28"/>
<rect class="g" x="453.23" y="345.04" width="15.21" height="13.28"/>
<rect class="g" x="468.88" y="345.04" width="15.21" height="13.28"/>
<rect class="g" x="484.54" y="345.04" width="15.21" height="13.28"/>
<rect class="g" x="61.85" y="358.77" width="15.21" height="13.28"/>
<rect class="g" x="77.5" y="358.77" width="15.21" height="13.28"/>
<rect class="g" x="93.16" y="358.77" width="15.21" height="13.28"/>
<rect class="g" x="108.81" y="358.77" width="15.21" height="13.28"/>
<rect class="g" x="124.47" y="358.77" width="15.21" height="13.28"/>
<rect class="g" x="140.12" y="358.77" width="15.21" height="13.28"/>
<rect class="g" x="155.78" y="358.77" width="15.21" height="13.28"/>
<rect class="g" x="171.43" y="358.77" width="15.21" height="13.28"/>
<rect class="g" x="187.09" y="358.77" width="15.21" height="13.28"/>
<rect class="g" x="202.74" y="358.77" width="15.21" height="13.28"/>
<rect class="g" x="218.4" y="358.77" width="15.21" height="13.28"/>
<rect class="d" x="234.05" y="358.77" width="15.21" height="13.28"/>
<rect class="g" x="249.71" y="358.77" width="15.21" height="13.28"/>
<rect class="g" x="265.37" y="358.77" width="15.21" height="13.28"/>
<rect class="g" x="281.02" y="358.77" width="15.21" height="13.28"/>
<rect class="g" x="296.68" y="358.77" width="15.21" height="13.28"/>
<rect class="g" x="312.33" y="358.77" width="15.21" height="13.28"/>
<rect class="g" x="327.99" y="358.77" width="15.21" height="13.28"/>
<rect class="g" x="343.64" y="358.77" width="15.21" height="13.28"/>
<rect class="g" x="359.3" y="358.77" width="15.21" height="13.28"/>
<rect class="g" x="374.95" y="358.77" width="15.21" height="13.28"/>
<rect class="g" x="390.61" y="358.77" width="15.21" height="13.28"/>
<rect class="g" x="406.26" y="358.77" width="15.21" height="13.28"/>
<rect class="g" x="421.92" y="358.77" width="15.21" height="13.28"/>
<rect class="g" x="437.57" y="358.77" width="15.21" height="13.28"/>
<rect class="g" x="453.23" y="358.77" width="15.21" height="13.28"/>
<rect class="g" x="468.88" y="358.77" width="15.21" height="13.28"/>
<rect class="g" x="484.54" y="358.77" width="15.21" height="13.28"/>
<rect class="g" x="61.85" y="372.5" width="15.21" height="13.28"/>
<rect class="g" x="77.5" y="372.5" width="15.21" height="13.28"/>
<rect class="g" x="93.16" y="372.5" width="15.21" height="13.28"/>
<rect class="g" x="108.81" y="372.5" width="15.21" height="13.28"/>
<rect class="l" x="124.47" y="372.5" width="15.21" height="13.28"/>
<rect class="g" x="140.12" y="372.5" width="15.21" height="13.28"/>
<rect class="g" x="155.78" y="372.5" width="15.21" height="13.28"/>
<rect class="g" x="171.43" y="372.5" width="15.21" height="13.28"/>
<rect class="g" x="187.09" y="372.5" width="15.21" height="13.28"/>
<rect class="g" x="202.74" y="372.5" width="15.21" height="13.28"/>
<rect class="g" x="218.4" y="372.5" width="15.21" height="13.28"/>
<rect class="g" x="234.05" y="372.5" width="15.21" height="13.28"/>
<rect class="g" x="249.71" y="372.5" width="15.21" height="13.28"/>
<rect class="g" x="265.37" y="372.5" width="15.21" height="13.28"/>
<rect class="g" x="281.02" y="372.5" width="15.21" height="13.28"/>
<rect class="g" x="296.68" y="372.5" width="15.21" height="13.28"/>
<rect class="g" x="312.33" y="372.5" width="15.21" height="13.28"/>
<rect class="g" x="327.99" y="372.5" width="15.21" height="13.28"/>
<rect class="g" x="343.64" y="372.5" width="15.21" height="13.28"/>
<rect class="g" x="359.3" y="372.5" width="15.21" height="13.28"/>
<rect class="g" x="374.95" y="372.5" width="15.21" height="13.28"/>
<rect class="g" x="390.61" y="372.5" width="15.21" height="13.28"/>
<rect class="g" x="406.26" y="372.5" width="15.21" height="13.28"/>
<rect class="g" x="421.92" y="372.5" width="15.21" height="13.28"/>
<rect class="g" x="437.57" y="372.5" width="15.21" height="13.28"/>
<rect class="g" x="453.23" y="372.5" width="15.21" height="13.28"/>
<rect class="g" x="468.88" y="372.5" width="15.21" height="13.28"/>
<rect class="g" x="484.54" y="372.5" width="15.21" height="13.28"/>
<rect class="g" x="61.85" y="386.23" width="15.21" height="13.28"/>
<rect class="g" x="77.5" y="386.23" width="15.21" height="13.28"/>
<rect class="g" x="93.16" y="386.23" width="15.21" height="13.28"/>
<rect class="g" x="108.81" y="386.23" width="15.21" height="13.28"/>
<rect class="g" x="124.47" y="386.23" width="15.21" height="13.28"/>
<rect class="d" x="140.12" y="386.23" width="15.21" height="13.28"/>
<rect class="g" x="155.78" y="386.23" width="15.21" height="13.28"/>
<rect class="g" x="171.43" y="386.23" width="15.21" height="13.28"/>
<rect class="g" x="187.09" y="386.23" width="15.21" height="13.28"/>
<rect class="g" x="202.74" y="386.23" width="15.21" height="13.28"/>
<rect class="g" x="218.4" y="386.23" width="15.21" height="13.28"/>
<rect class="g" x="234.05" y="386.23" width="15.21" height="13.28"/>
<rect class="g" x="249.71" y="386.23" width="15.21" height="13.28"/>
<rect class="g" x="265.37" y="386.23" width="15.21" height="13.28"/>
<rect class="g" x="281.02" y="386.23" width="15.21" height="13.28"/>
<rect class="g" x="296.68" y="386.23" width="15.21" height="13.28"/>
<rect class="g" x="312.33" y="386.23" width="15.21" height="13.28"/>
<rect class="g" x="327.99" y="386.23" width="15.21" height="13.28"/>
<rect class="g" x="343.64" y="386.23" width="15.21" height="13.28"/>
<rect class="g" x="359.3" y="386.23" width="15.21" height="13.28"/>
<rect class="g" x="374.95" y="386.23" width="15.21" height="13.28"/>
<rect class="g" x="390.61" y="386.23" width="15.21" height="13.28"/>
<rect class="g" x="406.26" y="386.23" width="15.21" height="13.28"/>
<rect class="g" x="421.92" y="386.23" width="15.21" height="13.28"/>
<rect class="g" x="437.57" y="386.23" width="15.21" height="13.28"/>
<rect class="g" x="453.23" y="386.23" width="15.21" height="13.28"/>
<rect class="g" x="468.88" y="386.23" width="15.21" height="13.28"/>
<rect class="g" x="484.54" y="386.23" width="15.21" height="13.28"/>
<rect class="g" x="61.85" y="399.96" width="15.21" height="13.28"/>
<rect class="g" x="77.5" y="399.96" width="15.21" height="13.28"/>
<rect class="d" x="93.16" y="399.96" width="15.21" height="13.28"/>
<rect class="g" x="108.81" y="399.96" width="15.21" height="13.28"/>
<rect class="g" x="124.47" y="399.96" width="15.21" height="13.28"/>
<rect class="g" x="140.12" y="399.96" width="15.21" height="13.28"/>
<rect class="g" x="155.78" y="399.96" width="15.21" height="13.28"/>
<rect class="g" x="171.43" y="399.96" width="15.21" height="13.28"/>
<rect class="g" x="187.09" y="399.96" width="15.21" height="13.28"/>
<rect class="g" x="202.74" y="399.96" width="15.21" height="13.28"/>
<rect class="g" x="218.4" y="399.96" width="15.21" height="13.28"/>
<rect class="g" x="234.05" y="399.96" width="15.21" height="13.28"/>
<rect class="g" x="249.71" y="399.96" width="15.21" height="13.28"/>
<rect class="g" x="265.37" y="399.96" width="15.21" height="13.28"/>
<rect class="g" x="281.02" y="399.96" width="15.21" height="13.28"/>
<rect class="g" x="296.68" y="399.96" width="15.21" height="13.28"/>
<rect class="g" x="312.33" y="399.96" width="15.21" height="13.28"/>
<rect class="g" x="327.99" y="399.96" width="15.21" height="13.28"/>
<rect class="g" x="343.64" y="399.96" width="15.21" height="13.28"/>
<rect class="g" x="359.3" y="399.96" width="15.21" height="13.28"/>
<rect class="g" x="374.95" y="399.96" width="15.21" height="13.28"/>
<rect class="g" x="390.61" y="399.96" width="15.21" height="13.28"/>
<rect class="g" x="406.26" y="399.96" width="15.21" height="13.28"/>
<rect class="g" x="421.92" y="399.96" width="15.21" height="13.28"/>
<rect class="g" x="437.57" y="399.96" width="15.21" height="13.28"/>
<rect class="g" x="453.23" y="399.96" width="15.21" height="13.28"/>
<rect class="g" x="468.88" y="399.96" width="15.21" height="13.28"/>
<rect class="g" x="484.54" y="399.96" width="15.21" height="13.28"/>
<rect class="g" x="61.85" y="413.69" width="15.21" height="13.28"/>
<rect class="g" x="77.5" y="413.69" width="15.21" height="13.28"/>
<rect class="g" x="93.16" y="413.69" width="15.21" height="13.28"/>
<rect class="g" x="108.81" y="413.69" width="15.21" height="13.28"/>
<rect class="g" x="124.47" y="413.69" width="15.21" height="13.28"/>
<rect class="l" x="140.12" y="413.69" width="15.21" height="13.28"/>
<rect class="g" x="155.78" y="413.69" width="15.21" height="13.28"/>
<rect class="g" x="171.43" y="413.69" width="15.21" height="13.28"/>
<rect class="g" x="187.09" y="413.69" width="15.21" height="13.28"/>
<rect class="g" x="202.74" y="413.69" width="15.21" height="13.28"/>
<rect class="g" x="218.4" y="413.69" width="15.21" height="13.28"/>
<rect class="g" x="234.05" y="413.69" width="15.21" height="13.28"/>
<rect class="g" x="249.71" y="413.69" width="15.21" height="13.28"/>
<rect class="g" x="265.37" y="413.69" width="15.21" height="13.28"/>
<rect class="g" x="281.02" y="413.69" width="15.21" height="13.28"/>
<rect class="g" x="296.68" y="413.69" width="15.21" height="13.28"/>
<rect class="g" x="312.33" y="413.69" width="15.21" height="13.28"/>
<rect class="g" x="327.99" y="413.69" width="15.21" height="13.28"/>
<rect class="g" x="343.64" y="413.69" width="15.21" height="13.28"/>
<rect class="g" x="359.3" y="413.69" width="15.21" height="13.28"/>
<rect class="g" x="374.95" y="413.69" width="15.21" height="13.28"/>
<rect class="g" x="390.61" y="413.69" width="15.21" height="13.28"/>
<rect class="g" x="406.26" y="413.69" width="15.21" height="13.28"/>
<rect class="g" x="421.92" y="413.69" width="15.21" height="13.28"/>
<rect class="g" x="437.57" y="413.69" width="15.21" height="13.28"/>
<rect class="g" x="453.23" y="413.69" width="15.21" height="13.28"/>
<rect class="g" x="468.88" y="413.69" width="15.21" height="13.28"/>
<rect class="g" x="484.54" y="413.69" width="15.21" height="13.28"/>
<rect class="g" x="61.85" y="427.42" width="15.21" height="13.28"/>
<rect class="g" x="77.5" y="427.42" width="15.21" height="13.28"/>
<rect class="g" x="93.16" y="427.42" width="15.21" height="13.28"/>
<rect class="g" x="108.81" y="427.42" width="15.21" height="13.28"/>
<rect class="g" x="124.47" y="427.42" width="15.21" height="13.28"/>
<rect class="d" x="140.12" y="427.42" width="15.21" height="13.28"/>
<rect class="g" x="155.78" y="427.42" width="15.21" height="13.28"/>
<rect class="g" x="171.43" y="427.42" width="15.21" height="13.28"/>
<rect class="g" x="187.09" y="427.42" width="15.21" height="13.28"/>
<rect class="g" x="202.74" y="427.42" width="15.21" height="13.28"/>
<rect class="g" x="218.4" y="427.42" width="15.21" height="13.28"/>
<rect class="g" x="234.05" y="427.42" width="15.21" height="13.28"/>
<rect class="g" x="249.71" y="427.42" width="15.21" height="13.28"/>
<rect class="g" x="265.37" y="427.42" width="15.21" height="13.28"/>
<rect class="g" x="281.02" y="427.42" width="15.21" height="13.28"/>
<rect class="g" x="296.68" y="427.42" width="15.21" height="13.28"/>
<rect class="g" x="312.33" y="427.42" width="15.21" height="13.28"/>
<rect class="g" x="327.99" y="427.42" width="15.21" height="13.28"/>
<rect class="g" x="343.64" y="427.42" width="15.21" height="13.28"/>
<rect class="g" x="359.3" y="427.42" width="15.21" height="13.28"/>
<rect class="g" x="374.95" y="427.42" width="15.21" height="13.28"/>
<rect class="g" x="390.61" y="427.42" width="15.21" height="13.28"/>
<rect class="g" x="406.26" y="427.42" width="15.21" height="13.28"/>
<rect class="g" x="421.92" y="427.42" width="15.21" height="13.28"/>
<rect class="g" x="437.57" y="427.42" width="15.21" height="13.28"/>
<rect class="g" x="453.23" y="427.42" width="15.21" height="13.28"/>
<rect class="g" x="468.88" y="427.42" width="15.21" height="13.28"/>
<rect class="g" x="484.54" y="427.42" width="15.21" height="13.28"/>
<rect class="g" x="61.85" y="441.15" width="15.21" height="13.28"/>
<rect class="g" x="77.5" y="441.15" width="15.21" height="13.28"/>
<rect class="l" x="93.16" y="441.15" width="15.21" height="13.28"/>
<rect class="g" x="108.81" y="441.15" width="15.21" height="13.28"/>
<rect class="g" x="124.47" y="441.15" width="15.21" height="13.28"/>
<rect class="g" x="140.12" y="441.15" width="15.21" height="13.28"/>
<rect class="g" x="155.78" y="441.15" width="15.21" height="13.28"/>
<rect class="g" x="171.43" y="441.15" width="15.21" height="13.28"/>
<rect class="g" x="187.09" y="441.15" width="15.21" height="13.28"/>
<rect class="g" x="202.74" y="441.15" width="15.21" height="13.28"/>
<rect class="g" x="218.4" y="441.15" width="15.21" height="13.28"/>
<rect class="g" x="234.05" y="441.15" width="15.21" height="13.28"/>
<rect class="g" x="249.71" y="441.15" width="15.21" height="13.28"/>
<rect class="g" x="265.37" y="441.15" width="15.21" height="13.28"/>
<rect class="g" x="281.02" y="441.15" width="15.21" height="13.28"/>
<rect class="g" x="296.68" y="441.15" width="15.21" height="13.28"/>
<rect class="g" x="312.33" y="441.15" width="15.21" height="13.28"/>
<rect class="g" x="327.99" y="441.15" width="15.21" height="13.28"/>
<rect class="g" x="343.64" y="441.15" width="15.21" height="13.28"/>
<rect class="g" x="359.3" y="441.15" width="15.21" height="13.28"/>
<rect class="g" x="374.95" y="441.15" width="15.21" height="13.28"/>
<rect class="g" x="390.61" y="441.15" width="15.21" height="13.28"/>
<rect class="g" x="406.26" y="441.15" width="15.21" height="13.28"/>
<rect class="g" x="421.92" y="441.15" width="15.21" height="13.28"/>
<rect class="g" x="437.57" y="441.15" width="15.21" height="13.28"/>
<rect class="g" x="453.23" y="441.15" width="15.21" height="13.28"/>
<rect class="g" x="468.88" y="441.15" width="15.21" height="13.28"/>
<rect class="g" x="484.54" y="441.15" width="15.21" height="13.28"/>
<rect class="g" x="61.85" y="454.88" width="15.21" height="13.28"/>
<rect class="g" x="77.5" y="454.88" width="15.21" height="13.28"/>
<rect class="g" x="93.16" y="454.88" width="15.21" height="13.28"/>
<rect class="g" x="108.81" y="454.88" width="15.21" height="13.28"/>
<rect class="g" x="124.47" y="454.88" width="15.21" height="13.28"/>
<rect class="d" x="140.12" y="454.88" width="15.21" height="13.28"/>
<rect class="g" x="155.78" y="454.88" width="15.21" height="13.28"/>
<rect class="g" x="171.43" y="454.88" width="15.21" height="13.28"/>
<rect class="g" x="187.09" y="454.88" width="15.21" height="13.28"/>
<rect class="g" x="202.74" y="454.88" width="15.21" height="13.28"/>
<rect class="g" x="218.4" y="454.88" width="15.21" height="13.28"/>
<rect class="g" x="234.05" y="454.88" width="15.21" height="13.28"/>
<rect class="g" x="249.71" y="454.88" width="15.21" height="13.28"/>
<rect class="g" x="265.37" y="454.88" width="15.21" height="13.28"/>
<rect class="g" x="281.02" y="454.88" width="15.21" height="13.28"/>
<rect class="g" x="296.68" y="454.88" width="15.21" height="13.28"/>
<rect class="g" x="312.33" y="454.88" width="15.21" height="13.28"/>
<rect class="g" x="327.99" y="454.88" width="15.21" height="13.28"/>
<rect class="g" x="343.64" y="454.88" width="15.21" height="13.28"/>
<rect class="g" x="359.3" y="454.88" width="15.21" height="13.28"/>
<rect class="g" x="374.95" y="454.88" width="15.21" height="13.28"/>
<rect class="g" x="390.61" y="454.88" width="15.21" height="13.28"/>
<rect class="g" x="406.26" y="454.88" width="15.21" height="13.28"/>
<rect class="g" x="421.92" y="454.88" width="15.21" height="13.28"/>
<rect class="g" x="437.57" y="454.88" width="15.21" height="13.28"/>
<rect class="g" x="453.23" y="454.88" width="15.21" height="13.28"/>
<rect class="g" x="468.88" y="454.88" width="15.21" height="13.28"/>
<rect class="g" x="484.54" y="454.88" width="15.21" height="13.28"/>
<rect class="g" x="61.85" y="468.61" width="15.21" height="13.28"/>
<rect class="g" x="77.5" y="468.61" width="15.21" height="13.28"/>
<rect class="g" x="93.16" y="468.61" width="15.21" height="13.28"/>
<rect class="g" x="108.81" y="468.61" width="15.21" height="13.28"/>
<rect class="g" x="124.47" y="468.61" width="15.21" height="13.28"/>
<rect class="l" x="140.12" y="468.61" width="15.21" height="13.28"/>
<rect class="g" x="155.78" y="468.61" width="15.21" height="13.28"/>
<rect class="g" x="171.43" y="468.61" width="15.21" height="13.28"/>
<rect class="g" x="187.09" y="468.61" width="15.21" height="13.28"/>
<rect class="g" x="202.74" y="468.61" width="15.21" height="13.28"/>
<rect class="g" x="218.4" y="468.61" width="15.21" height="13.28"/>
<rect class="g" x="234.05" y="468.61" width="15.21" height="13.28"/>
<rect class="g" x="249.71" y="468.61" width="15.21" height="13.28"/>
<rect class="g" x="265.37" y="468.61" width="15.21" height="13.28"/>
<rect class="g" x="281.02" y="468.61" width="15.21" height="13.28"/>
<rect class="g" x="296.68" y="468.61" width="15.21" height="13.28"/>
<rect class="g" x="312.33" y="468.61" width="15.21" height="13.28"/>
<rect class="g" x="327.99" y="468.61" width="15.21" height="13.28"/>
<rect class="g" x="343.64" y="468.61" width="15.21" height="13.28"/>
<rect class="g" x="359.3" y="468.61" width="15.21" height="13.28"/>
<rect class="g" x="374.95" y="468.61" width="15.21" height="13.28"/>
<rect class="g" x="390.61" y="468.61" width="15.21" height="13.28"/>
<rect class="g" x="406.26" y="468.61" width="15.21" height="13.28"/>
<rect class="g" x="421.92" y="468.61" width="15.21" height="13.28"/>
<rect class="g" x="437.57" y="468.61" width="15.21" height="13.28"/>
<rect class="g" x="453.23" y="468.61" width="15.21" height="13.28"/>
<rect class="g" x="468.88" y="468.61" width="15.21" height="13.28"/>
<rect class="g" x="484.54" y="468.61" width="15.21" height="13.28"/>
</g>
<rect class="d" x="62.7" y="49" width="13.5" height="26.9"/>
<rect class="d" x="78.36" y="40.1" width="13.5" height="35.8"/>
<rect class="d" x="94.01" y="31.7" width="13.5" height="44.2"/>
<rect class="o" x="94.01" y="22.8" width="13.5" height="9.4"/>
<rect class="l" x="94.01" y="4.5" width="13.5" height="18.8"/>
<rect class="d" x="109.67" y="49" width="13.5" height="26.9"/>
<rect class="d" x="125.32" y="67.3" width="13.5" height="8.6"/>
<rect class="l" x="125.32" y="57.9" width="13.5" height="9.9"/>
<rect class="d" x="140.98" y="31.7" width="13.5" height="44.2"/>
<rect class="l" x="140.98" y="13.4" width="13.5" height="18.8"/>
<rect class="d" x="156.63" y="66.8" width="13.5" height="9.1"/>
<rect class="d" x="172.29" y="66.8" width="13.5" height="9.1"/>
<rect class="d" x="187.94" y="66.8" width="13.5" height="9.1"/>
<rect class="d" x="203.6" y="66.8" width="13.5" height="9.1"/>
<rect class="d" x="219.25" y="66.8" width="13.5" height="9.1"/>
<rect class="d" x="234.91" y="57.9" width="13.5" height="18"/>
<rect class="d" x="250.56" y="40.1" width="13.5" height="35.8"/>
<rect class="d" x="266.22" y="66.8" width="13.5" height="9.1"/>
<rect class="o" x="281.87" y="66.8" width="13.5" height="9.1"/>
<rect class="d" x="297.53" y="66.8" width="13.5" height="9.1"/>
<rect class="l" x="313.18" y="66.8" width="13.5" height="9.1"/>
<rect class="d" x="328.84" y="49" width="13.5" height="26.9"/>
<rect class="o" x="344.49" y="66.8" width="13.5" height="9.1"/>
<rect class="d" x="360.15" y="66.8" width="13.5" height="9.1"/>
<rect class="d" x="375.8" y="66.8" width="13.5" height="9.1"/>
<rect x="391.71" y="75.05" width="13" height="1.1" fill="#8ea2a8"/>
<rect x="407.36" y="75.05" width="13" height="1.1" fill="#8ea2a8"/>
<rect x="423.02" y="75.05" width="13" height="1.1" fill="#8ea2a8"/>
<rect x="438.67" y="75.05" width="13" height="1.1" fill="#8ea2a8"/>
<rect x="454.33" y="75.05" width="13" height="1.1" fill="#8ea2a8"/>
<rect x="469.98" y="75.05" width="13" height="1.1" fill="#8ea2a8"/>
<rect x="485.64" y="75.05" width="13" height="1.1" fill="#8ea2a8"/>
<path d="M61.5 5.25V75.65" stroke="#333" stroke-width="1" fill="none"/>
<path d="M54 75.65H61.5" stroke="#333" stroke-width="1"/>
<text x="46.1" y="80.15" font-size="13.2" text-anchor="end">0</text>
<path d="M54 58.05H61.5" stroke="#333" stroke-width="1"/>
<text x="46.1" y="62.55" font-size="13.2" text-anchor="end">2</text>
<path d="M54 40.45H61.5" stroke="#333" stroke-width="1"/>
<text x="46.1" y="44.95" font-size="13.2" text-anchor="end">4</text>
<path d="M54 22.85H61.5" stroke="#333" stroke-width="1"/>
<text x="46.1" y="27.35" font-size="13.2" text-anchor="end">6</text>
<path d="M54 5.25H61.5" stroke="#333" stroke-width="1"/>
<text x="46.1" y="9.75" font-size="13.2" text-anchor="end">8</text>
<text class="lb" x="56.1" y="94.35">BRAFV600E</text>
<g transform="matrix(1 0 0 1.0400 0 -3.824)">
<text class="pb" x="507.8" y="95.6">36%</text>
</g>
<rect class="d" x="537.3" y="86" width="140.2" height="12.1"/>
<text id="t0" class="lb" x="56.1" y="108.08">MAP2K&#x2007;</text>
<path d="M380.1 0L604 1152L223 938L270 1180L666 1409L936 1409L660.9 0Z" transform="translate(50.694 108.080) scale(0.004736 -0.004736)"/>
<g transform="matrix(1 0 0 1.0400 0 -4.373)">
<text class="pb" x="507.8" y="109.33">7%</text>
</g>
<rect class="d" x="537.3" y="99.64" width="14.02" height="12.1"/>
<rect class="o" x="551.32" y="99.64" width="14.02" height="12.1"/>
<text class="lb" x="56.1" y="121.81">KRAS</text>
<g transform="matrix(1 0 0 1.0400 0 -4.923)">
<text class="pb" x="507.8" y="123.06">7%</text>
</g>
<rect class="d" x="537.3" y="113.29" width="28.04" height="12.1"/>
<text class="lb" x="56.1" y="135.55">NRAS</text>
<g transform="matrix(1 0 0 1.0400 0 -5.472)">
<text class="pb" x="507.8" y="136.8">7%</text>
</g>
<rect class="d" x="537.3" y="126.94" width="28.04" height="12.1"/>
<text class="lb" x="56.1" y="149.28">ERBB3</text>
<g transform="matrix(1 0 0 1.0400 0 -6.021)">
<text class="pb" x="507.8" y="150.53">7%</text>
</g>
<rect class="d" x="537.3" y="140.58" width="28.04" height="12.1"/>
<text class="lb" x="56.1" y="163">BRAFindel</text>
<g transform="matrix(1 0 0 1.0400 0 -6.570)">
<text class="pb" x="507.8" y="164.25">4%</text>
</g>
<rect class="o" x="537.3" y="154.22" width="14.02" height="12.1"/>
<text class="lb" x="56.1" y="176.74">TP53</text>
<g transform="matrix(1 0 0 1.0400 0 -7.119)">
<text class="pb" x="507.8" y="177.99">4%</text>
</g>
<rect class="d" x="537.3" y="167.87" width="14.02" height="12.1"/>
<text class="lb" x="56.1" y="190.47">ARAF</text>
<g transform="matrix(1 0 0 1.0400 0 -7.669)">
<text class="pb" x="507.8" y="191.72">4%</text>
</g>
<rect class="d" x="537.3" y="181.51" width="14.02" height="12.1"/>
<text id="t1" class="lb" x="56.1" y="204.19">NF&#x2007;</text>
<path d="M380.1 0L604 1152L223 938L270 1180L666 1409L936 1409L660.9 0Z" transform="translate(50.694 204.190) scale(0.004736 -0.004736)"/>
<g transform="matrix(1 0 0 1.0400 0 -8.218)">
<text class="pb" x="507.8" y="205.44">4%</text>
</g>
<rect class="d" x="537.3" y="195.16" width="14.02" height="12.1"/>
<text class="lb" x="56.1" y="217.93">VEGFA</text>
<g transform="matrix(1 0 0 1.0400 0 -8.767)">
<text class="pb" x="507.8" y="219.18">4%</text>
</g>
<rect class="d" x="537.3" y="208.81" width="14.02" height="12.1"/>
<text class="lb" x="56.1" y="231.66">KDR</text>
<g transform="matrix(1 0 0 1.0400 0 -9.316)">
<text class="pb" x="507.8" y="232.91">4%</text>
</g>
<rect class="d" x="537.3" y="222.45" width="14.02" height="12.1"/>
<text id="t2" class="lr" x="56.5" y="245.39">SCN&#x2007;A</text>
<path d="M412.3 0L650 1223L289 1000L324 1180L701 1409L867 1409L593.3 0Z" transform="translate(44.500 245.390) scale(0.004785 -0.004785)"/>
<g transform="matrix(1 0 0 1.0700 0 -17.243)">
<text id="t3" class="pr" x="507.8" y="246.34">&#x2007;<tspan dx="-0.935">&#x2007;</tspan>%</text>
<path d="M515 0L515 1237L197 1010L197 1180L530 1409L696 1409L696 0Z" transform="translate(507.800 246.340) scale(0.006152 -0.006152)"/>
<path d="M515 0L515 1237L197 1010L197 1180L530 1409L696 1409L696 0Z" transform="translate(513.881 246.340) scale(0.006152 -0.006152)"/>
</g>
<rect class="d" x="537.3" y="236.09" width="28.04" height="12.1"/>
<text class="lr" x="56.5" y="259.12">TET2</text>
<g transform="matrix(1 0 0 1.0700 0 -18.205)">
<text class="pr" x="507.8" y="260.06">7%</text>
</g>
<rect class="l" x="537.3" y="249.74" width="28.04" height="12.1"/>
<text class="lr" x="56.5" y="272.85">MSH6</text>
<g transform="matrix(1 0 0 1.0700 0 -19.166)">
<text class="pr" x="507.8" y="273.8">7%</text>
</g>
<rect class="d" x="537.3" y="263.38" width="28.04" height="12.1"/>
<text id="t4" class="lr" x="56.5" y="286.57">IDH&#x2007;</text>
<path d="M412.3 0L650 1223L289 1000L324 1180L701 1409L867 1409L593.3 0Z" transform="translate(51.031 286.570) scale(0.004785 -0.004785)"/>
<g transform="matrix(1 0 0 1.0700 0 -20.127)">
<text class="pr" x="507.8" y="287.52">7%</text>
</g>
<rect class="d" x="537.3" y="277.03" width="28.04" height="12.1"/>
<text id="t5" class="lr" x="56.5" y="300.31">SETBP&#x2007;</text>
<path d="M412.3 0L650 1223L289 1000L324 1180L701 1409L867 1409L593.3 0Z" transform="translate(51.031 300.310) scale(0.004785 -0.004785)"/>
<g transform="matrix(1 0 0 1.0700 0 -21.088)">
<text class="pr" x="507.8" y="301.25">7%</text>
</g>
<rect class="d" x="537.3" y="290.67" width="28.04" height="12.1"/>
<text class="lr" x="56.5" y="314.04">CSF3R</text>
<g transform="matrix(1 0 0 1.0700 0 -22.049)">
<text class="pr" x="507.8" y="314.99">7%</text>
</g>
<rect class="d" x="537.3" y="304.32" width="14.02" height="12.1"/>
<rect class="o" x="551.32" y="304.32" width="14.02" height="12.1"/>
<text id="t6" class="lr" x="56.5" y="327.77">RUNX&#x2007;</text>
<path d="M412.3 0L650 1223L289 1000L324 1180L701 1409L867 1409L593.3 0Z" transform="translate(51.031 327.770) scale(0.004785 -0.004785)"/>
<g transform="matrix(1 0 0 1.0700 0 -23.010)">
<text class="pr" x="507.8" y="328.72">4%</text>
</g>
<rect class="d" x="537.3" y="317.97" width="14.02" height="12.1"/>
<text class="lr" x="56.5" y="341.5">PIK3CA</text>
<g transform="matrix(1 0 0 1.0700 0 -23.971)">
<text class="pr" x="507.8" y="342.44">4%</text>
</g>
<rect class="d" x="537.3" y="331.61" width="14.02" height="12.1"/>
<text id="t7" class="lr" x="56.5" y="355.23">PTPN&#x2007;<tspan dx="-0.727">&#x2007;</tspan></text>
<path d="M412.3 0L650 1223L289 1000L324 1180L701 1409L867 1409L593.3 0Z" transform="translate(46.321 355.230) scale(0.004785 -0.004785)"/>
<path d="M412.3 0L650 1223L289 1000L324 1180L701 1409L867 1409L593.3 0Z" transform="translate(51.047 355.230) scale(0.004785 -0.004785)"/>
<g transform="matrix(1 0 0 1.0700 0 -24.932)">
<text class="pr" x="507.8" y="356.18">4%</text>
</g>
<rect class="d" x="537.3" y="345.25" width="14.02" height="12.1"/>
<text id="t8" class="lr" x="56.5" y="368.96">NOTCH&#x2007;</text>
<path d="M412.3 0L650 1223L289 1000L324 1180L701 1409L867 1409L593.3 0Z" transform="translate(51.047 368.960) scale(0.004785 -0.004785)"/>
<g transform="matrix(1 0 0 1.0700 0 -25.893)">
<text class="pr" x="507.8" y="369.91">4%</text>
</g>
<rect class="d" x="537.3" y="358.9" width="14.02" height="12.1"/>
<text class="lr" x="56.5" y="382.69">CBL</text>
<g transform="matrix(1 0 0 1.0700 0 -26.854)">
<text class="pr" x="507.8" y="383.63">4%</text>
</g>
<rect class="l" x="537.3" y="372.55" width="14.02" height="12.1"/>
<text class="lr" x="56.5" y="396.42">ALK</text>
<g transform="matrix(1 0 0 1.0700 0 -27.816)">
<text class="pr" x="507.8" y="397.37">4%</text>
</g>
<rect class="d" x="537.3" y="386.19" width="14.02" height="12.1"/>
<text class="lr" x="56.5" y="410.15">RICTOR</text>
<g transform="matrix(1 0 0 1.0700 0 -28.777)">
<text class="pr" x="507.8" y="411.1">4%</text>
</g>
<rect class="d" x="537.3" y="399.83" width="14.02" height="12.1"/>
<text class="lr" x="56.5" y="423.88">PIK3R2</text>
<g transform="matrix(1 0 0 1.0700 0 -29.738)">
<text class="pr" x="507.8" y="424.82">4%</text>
</g>
<rect class="l" x="537.3" y="413.48" width="14.02" height="12.1"/>
<text class="lr" x="56.5" y="437.61">TTN</text>
<g transform="matrix(1 0 0 1.0700 0 -30.699)">
<text class="pr" x="507.8" y="438.56">4%</text>
</g>
<rect class="d" x="537.3" y="427.12" width="14.02" height="12.1"/>
<text class="lr" x="56.5" y="451.34">RYR2</text>
<g transform="matrix(1 0 0 1.0700 0 -31.660)">
<text class="pr" x="507.8" y="452.29">4%</text>
</g>
<rect class="l" x="537.3" y="440.77" width="14.02" height="12.1"/>
<text class="lr" x="56.5" y="465.06">EOMES</text>
<g transform="matrix(1 0 0 1.0700 0 -32.621)">
<text class="pr" x="507.8" y="466.01">4%</text>
</g>
<rect class="d" x="537.3" y="454.41" width="14.02" height="12.1"/>
<text class="lr" x="56.5" y="478.8">CHEK2</text>
<g transform="matrix(1 0 0 1.0700 0 -33.582)">
<text class="pr" x="507.8" y="479.75">4%</text>
</g>
<rect class="l" x="537.3" y="468.06" width="14.02" height="12.1"/>
<path d="M537.3 83.8H677.5" stroke="#888" stroke-width="1"/>
<path d="M537.3 76.3V84" stroke="#333" stroke-width="1"/>
<g transform="matrix(1 0 0 1.0300 0 -1.958)">
<text x="537.4" y="65.25" font-size="13" text-anchor="middle">0</text>
</g>
<path d="M607.4 76.3V84" stroke="#333" stroke-width="1"/>
<g transform="matrix(1 0 0 1.0300 0 -1.958)">
<text x="607.5" y="65.25" font-size="13" text-anchor="middle">5</text>
</g>
<path d="M677.5 76.3V84" stroke="#333" stroke-width="1"/>
<g transform="matrix(1 0 0 1.0300 0 -1.958)">
<text id="t9" x="677.6" y="65.25" font-size="13" text-anchor="middle">&#x2007;0</text>
<path d="M515 0L515 1237L197 1010L197 1180L530 1409L696 1409L696 0Z" transform="translate(670.366 65.250) scale(0.006348 -0.006348)"/>
</g>
<text x="606.6" y="356.1" font-size="11.8">Alteration</text>
<rect class="d" x="607" y="364" width="17.8" height="17.97"/>
<text x="631.3" y="376.35" font-size="9.45" fill="#1a1a1a">Missense</text>
<rect class="o" x="607" y="382.57" width="17.8" height="17.67"/>
<text x="631.3" y="394.62" font-size="9.45" fill="#1a1a1a">Frameshift</text>
<rect class="l" x="607" y="400.84" width="17.8" height="17.97"/>
<text x="631.3" y="412.89" font-size="9.45" fill="#1a1a1a">Nosense</text>
</svg>
</body></html>
